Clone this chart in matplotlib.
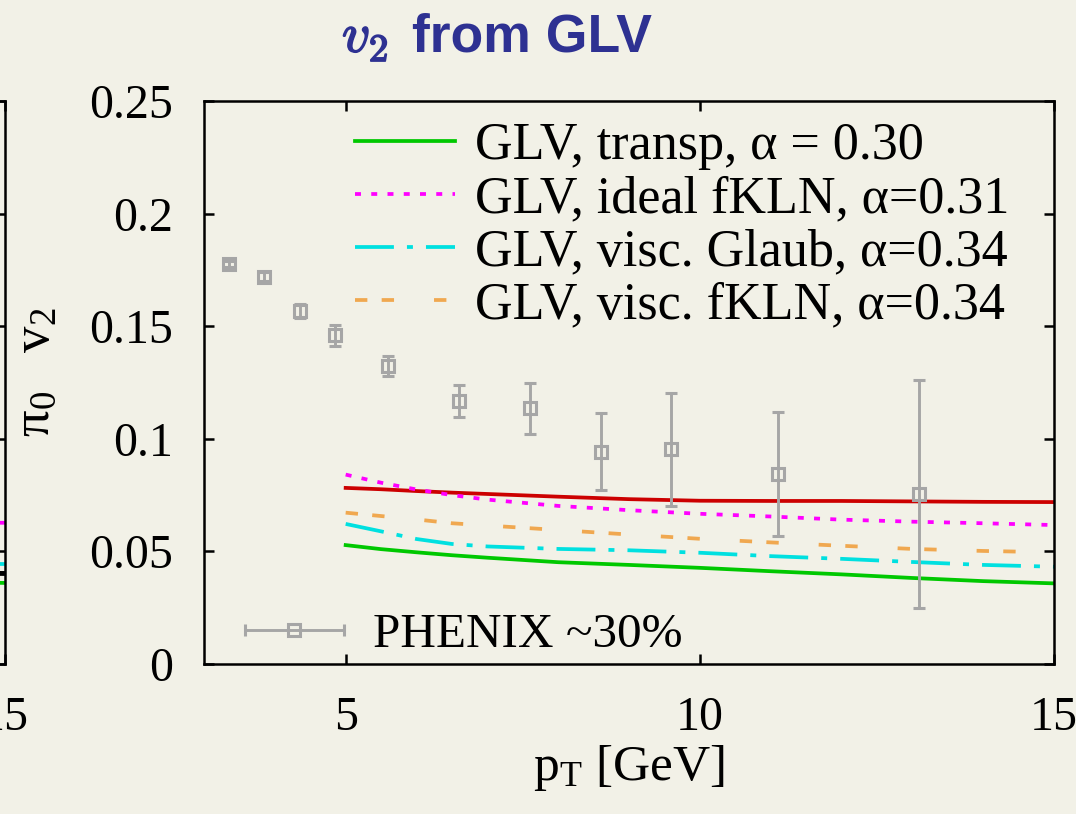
import numpy as np
import matplotlib
matplotlib.use("Agg")
import matplotlib.pyplot as plt
import matplotlib.patheffects as pe
from matplotlib.container import ErrorbarContainer
from matplotlib.legend_handler import HandlerErrorbar

BG = "#f2f1e7"
GRIS = "#a6a6a6"
AZUL = "#2e3192"

# PHENIX ~30% (pi0 v2)
pt_phenix = [3.35, 3.85, 4.35, 4.85, 5.6, 6.6, 7.6, 8.6, 9.6, 11.1, 13.1]
v2_phenix = [0.1776, 0.1720, 0.1567, 0.1459, 0.1323, 0.1168, 0.1135, 0.0943, 0.0953, 0.0845, 0.0755]
err_phenix = [0.0015, 0.002, 0.0032, 0.0045, 0.0043, 0.0072, 0.0113, 0.0170, 0.0250, 0.0275, 0.0507]

# curvas GLV
pt_glv = [5, 5.5, 6, 6.5, 7, 8, 9, 10, 11, 12, 13, 14, 15]
v2_transp = [0.0528, 0.0510, 0.0496, 0.0483, 0.0472, 0.0452, 0.0440, 0.0427, 0.0412, 0.0398, 0.0382, 0.0368, 0.0358]
v2_ideal_fkln = [0.0841, 0.0805, 0.0775, 0.0750, 0.0730, 0.0702, 0.0683, 0.0667, 0.0655, 0.0641, 0.0632, 0.0625, 0.0617]
v2_visc_glaub = [0.0622, 0.0589, 0.0555, 0.0533, 0.0522, 0.0511, 0.0505, 0.0494, 0.0479, 0.0467, 0.0453, 0.0440, 0.0432]
v2_visc_fkln = [0.0672, 0.0657, 0.0642, 0.0625, 0.0615, 0.0595, 0.0575, 0.0556, 0.0540, 0.0525, 0.0511, 0.0502, 0.0496]
v2_rojo = [0.0782, 0.0776, 0.0768, 0.0761, 0.0755, 0.0743, 0.0732, 0.0725, 0.0724, 0.0724, 0.0722, 0.0720, 0.0719]

labels_glv = ["GLV, transp, α = 0.30",
              "GLV, ideal fKLN, α=0.31",
              "GLV, visc. Glaub, α=0.34",
              "GLV, visc. fKLN, α=0.34"]
label_phenix = "PHENIX ~30%"

# panel izquierdo (solo se ve su borde derecho)
pt_izq = [14, 15]
v2_izq_ideal = [0.0630, 0.0627]
v2_izq_glaub = [0.0447, 0.0444]
v2_izq_negro = [0.0404, 0.0402]
v2_izq_transp = [0.0364, 0.0360]

y_ticks = [0, 0.05, 0.1, 0.15, 0.2, 0.25]
y_ticklabels = ["0", "0.05", "0.1", "0.15", "0.2", "0.25"]
x_ticks = [5, 10, 15]

plt.rcParams["font.family"] = ["Liberation Serif", "DejaVu Serif"]
plt.rcParams["mathtext.fontset"] = "custom"
plt.rcParams["mathtext.rm"] = "Liberation Serif"
plt.rcParams["mathtext.it"] = "Liberation Serif:italic"
plt.rcParams["lines.scale_dashes"] = False

FS = 34.5       # ticks
FS_LEG = 37.5   # leyenda GLV
LW = 2.7
DOT = (0, (4.3, 7.4))
DASHDOT = (0, (28, 9.4, 4.3, 9.4))
DASH = (0, (8.9, 10.3, 8.9, 28.8))


def estilo_ejes(ax):
    ax.set_facecolor(BG)
    for s in ax.spines.values():
        s.set_linewidth(1.8)
    ax.set_xlim(3, 15)
    ax.set_ylim(0, 0.25)
    ax.set_xticks(x_ticks)
    ax.set_yticks(y_ticks)
    ax.set_yticklabels(y_ticklabels)
    ax.tick_params(direction="in", length=7.5, width=1.8, top=True, right=True,
                   labelsize=FS)
    ax.tick_params(axis="x", pad=23)
    ax.tick_params(axis="y", pad=22)


fig = plt.figure(figsize=(10.76, 8.14), dpi=100, facecolor=BG)

W = 850 / 1076
H = 563 / 814
ax = fig.add_axes([204 / 1076, 1 - 664 / 814, W, H])
ax_izq = fig.add_axes([5 / 1076 - W, 1 - 664 / 814, W, H])
estilo_ejes(ax)
estilo_ejes(ax_izq)

# panel izquierdo
ax_izq.plot(pt_izq, v2_izq_ideal, color="#ff00ff", lw=LW, ls=DOT)
ax_izq.plot(pt_izq, v2_izq_glaub, color="#00e0e0", lw=LW, ls=DASHDOT)
ax_izq.plot(pt_izq, v2_izq_negro, color="black", lw=3.5)
ax_izq.plot(pt_izq, v2_izq_transp, color="#00c800", lw=LW)

# panel principal
ax.plot(pt_glv, v2_rojo, color="#cc0000", lw=LW)
l1, = ax.plot(pt_glv, v2_transp, color="#00c800", lw=LW)
l2, = ax.plot(pt_glv, v2_ideal_fkln, color="#ff00ff", lw=LW, ls=DOT)
l3, = ax.plot(pt_glv, v2_visc_glaub, color="#00e0e0", lw=LW, ls=DASHDOT)
l4, = ax.plot(pt_glv, v2_visc_fkln, color="#f0a850", lw=LW, ls=DASH)

eb = ax.errorbar(pt_phenix, v2_phenix, yerr=err_phenix, fmt="s", ms=8.5,
                 mfc="none", mec=GRIS, mew=2.2, color=GRIS, elinewidth=2.1,
                 capsize=4, capthick=2.1, zorder=5)

leg = ax.legend([l1, l2, l3, l4], labels_glv, loc="upper left",
                bbox_to_anchor=((355 - 204) / 850, 0.963), frameon=False,
                fontsize=FS_LEG, handlelength=1.92, handletextpad=0.38,
                labelspacing=0.1, borderpad=0, borderaxespad=0)
ax.add_artist(leg)

# clave PHENIX con barra horizontal, como en gnuplot
linea, caps, barras = eb.lines
clave = ErrorbarContainer((linea, caps, barras), has_xerr=True, has_yerr=False)
ax.legend([clave], [label_phenix], loc="lower left",
          bbox_to_anchor=((245 - 204) / 850, 0.012), frameon=False,
          fontsize=35.5, handlelength=2.0, handletextpad=0.6,
          borderpad=0, borderaxespad=0,
          handler_map={clave: HandlerErrorbar(xerr_size=1.0)})

ax.set_xlabel(r"$\mathrm{p_T}$ [GeV]", fontsize=37)
ax.xaxis.set_label_coords(0.5, -0.14)
ax.set_ylabel(r"$\mathrm{\pi_0\ \ \ v_2}$", fontsize=38)
ax.yaxis.set_label_coords(-0.17, 0.519)

fig.text(342 / 1076, 1 - 52 / 814, r"$v_2$", fontsize=40, color=AZUL,
         math_fontfamily="cm",
         path_effects=[pe.withStroke(linewidth=1.2, foreground=AZUL)])
fig.text(412 / 1076, 1 - 52 / 814, "from GLV", fontsize=38.5,
         weight="bold", family="Liberation Sans", color=AZUL)

fig.savefig("out.png", dpi=100, facecolor=BG)
